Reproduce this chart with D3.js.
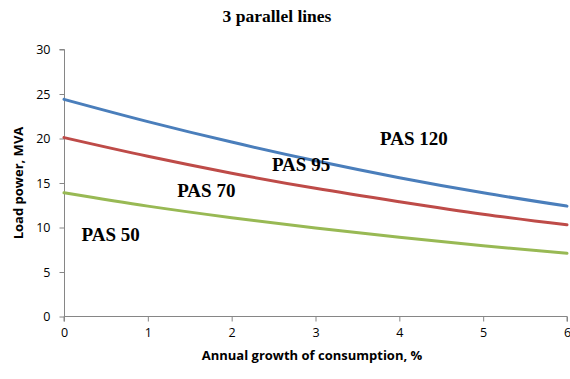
<!DOCTYPE html>
<html>
<head>
<meta charset="utf-8">
<script src="https://cdn.jsdelivr.net/npm/d3@7"></script>
<style>
  html, body { margin: 0; padding: 0; background: #fff; }
  svg { display: block; }
</style>
</head>
<body>
<svg id="chart" width="570" height="379"></svg>
<script>
const xValues = [0, 1, 2, 3, 4, 5, 6];
const pas120 = [24.4, 21.9, 19.6, 17.5, 15.6, 13.9, 12.4];
const pas95  = [20.1, 18.0, 16.1, 14.4, 12.9, 11.5, 10.3];
const pas50  = [13.9, 12.4, 11.1, 9.95, 8.9, 7.95, 7.1];
const seriesNames = ["PAS 120", "PAS 95", "PAS 50"];
const seriesColors = ["#4a7ebb", "#be4b48", "#98b954"];
const xTicks = [0, 1, 2, 3, 4, 5, 6];
const yTicks = [0, 5, 10, 15, 20, 25, 30];
const labels = [
  {text: "PAS 120", x: 3.77, y: 19.3},
  {text: "PAS 95",  x: 2.48, y: 16.3},
  {text: "PAS 70",  x: 1.35, y: 13.45},
  {text: "PAS 50",  x: 0.21, y: 8.45}
];
const titleText = "3 parallel lines";
const xTitle = "Annual growth of consumption, %";
const yTitle = "Load power, MVA";

(function draw() {
  const svg = d3.select("#chart");
  const mLeft = 64, mRight = 567, mTop = 49.5, mBottom = 316.5;
  const x = d3.scaleLinear().domain([0, 6]).range([mLeft, mRight]);
  const y = d3.scaleLinear().domain([0, 30]).range([mBottom, mTop]);
  const axisColor = "#868686";
  const tickFont = "'Open Sans', sans-serif";

  svg.append("text").attr("x", 277).attr("y", 22).attr("text-anchor", "middle")
    .attr("font-family", "'Liberation Serif', 'Times New Roman', serif")
    .attr("font-weight", "bold").attr("font-size", 17.5).attr("fill", "#000")
    .text(titleText);

  const yAxis = svg.append("g").attr("transform", `translate(${mLeft + 0.5},0)`)
    .call(d3.axisLeft(y).tickValues(yTicks).tickSize(5).tickPadding(9).tickFormat(d3.format("d")));
  const xAxis = svg.append("g").attr("transform", `translate(0,${mBottom})`)
    .call(d3.axisBottom(x).tickValues(xTicks).tickSize(5).tickPadding(7).tickFormat(d3.format("d")));

  [yAxis, xAxis].forEach(g => {
    g.selectAll("path.domain").attr("stroke", axisColor).attr("stroke-width", 1);
    g.selectAll(".tick line").attr("stroke", axisColor);
    g.selectAll(".tick text").attr("font-family", tickFont).attr("font-size", 12.5).attr("fill", "#000");
  });
  yAxis.select("path.domain").attr("d", `M-5,${mTop}H0V${mBottom}`);
  xAxis.select("path.domain").attr("d", `M${mLeft},5V0H${mRight}V5`);

  svg.append("text").attr("x", 312).attr("y", 360).attr("text-anchor", "middle")
    .attr("font-family", tickFont).attr("font-weight", "bold").attr("font-size", 13)
    .attr("fill", "#000").text(xTitle);
  svg.append("text").attr("transform", "translate(23,183) rotate(-90)")
    .attr("text-anchor", "middle").attr("font-family", tickFont)
    .attr("font-weight", "bold").attr("font-size", 13).attr("fill", "#000").text(yTitle);

  const line = d3.line().x((d, i) => x(xValues[i])).y(d => y(d)).curve(d3.curveMonotoneX);
  [pas120, pas95, pas50].forEach((s, k) => {
    svg.append("path").datum(s).attr("d", line).attr("fill", "none")
      .attr("stroke", seriesColors[k]).attr("stroke-width", 3).attr("stroke-linecap", "round");
  });

  labels.forEach(l => {
    svg.append("text").attr("x", x(l.x)).attr("y", y(l.y))
      .attr("font-family", "'Liberation Serif', 'Times New Roman', serif")
      .attr("font-weight", "bold").attr("font-size", 19).attr("fill", "#000")
      .text(l.text);
  });
})();
</script>
</body>
</html>
